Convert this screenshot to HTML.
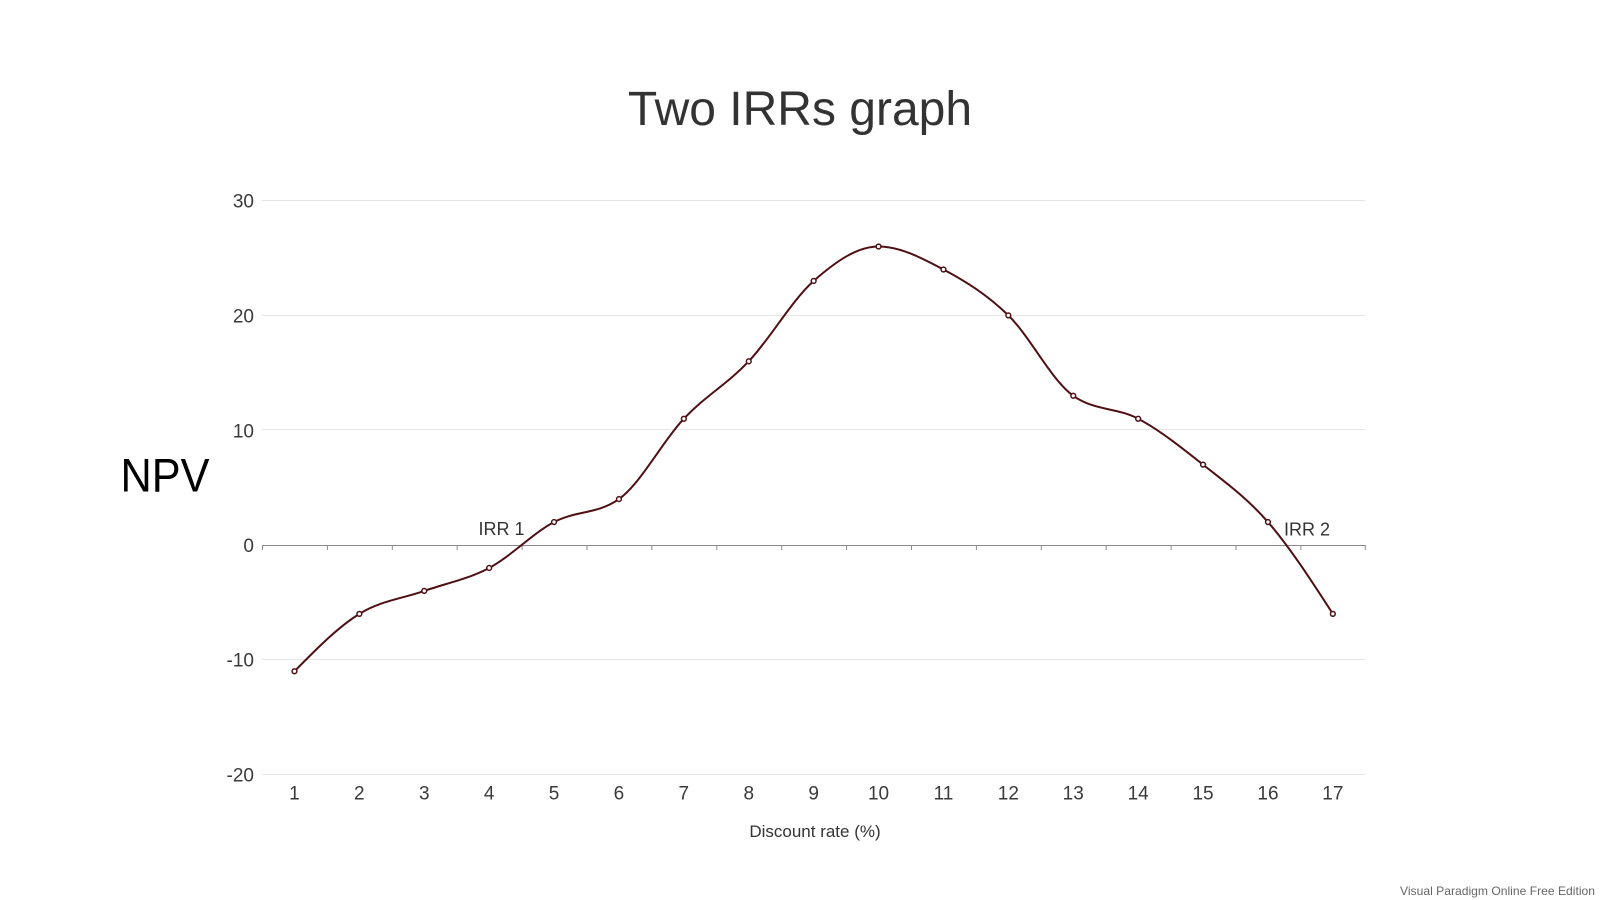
<!DOCTYPE html>
<html>
<head>
<meta charset="utf-8">
<style>
  html, body { margin:0; padding:0; background:#ffffff; }
  body { width:1600px; height:900px; overflow:hidden; }
  svg { display:block; }
  text { font-family: "Liberation Sans", "DejaVu Sans", sans-serif; }
</style>
</head>
<body>
<svg width="1600" height="900" viewBox="0 0 1600 900" xmlns="http://www.w3.org/2000/svg">
  <rect x="0" y="0" width="1600" height="900" fill="#ffffff"/>

  <!-- Title -->
  <text x="800" y="125" font-size="48" fill="#333333" text-anchor="middle">Two IRRs graph</text>

  <!-- Gridlines -->
  <g stroke="#e6e6e6" stroke-width="1">
    <line x1="262" y1="200.5" x2="1365" y2="200.5"/>
    <line x1="262" y1="315.5" x2="1365" y2="315.5"/>
    <line x1="262" y1="429.5" x2="1365" y2="429.5"/>
    <line x1="262" y1="659.5" x2="1365" y2="659.5"/>
    <line x1="262" y1="774.5" x2="1365" y2="774.5"/>
  </g>

  <!-- Zero axis line with ticks -->
  <g stroke="#8a8a8a" stroke-width="1">
    <line x1="262" y1="545.5" x2="1365.5" y2="545.5"/>
    <line x1="262.5" y1="545" x2="262.5" y2="550"/>
    <line x1="327.4" y1="545" x2="327.4" y2="550"/>
    <line x1="392.3" y1="545" x2="392.3" y2="550"/>
    <line x1="457.2" y1="545" x2="457.2" y2="550"/>
    <line x1="522.1" y1="545" x2="522.1" y2="550"/>
    <line x1="587.0" y1="545" x2="587.0" y2="550"/>
    <line x1="651.9" y1="545" x2="651.9" y2="550"/>
    <line x1="716.8" y1="545" x2="716.8" y2="550"/>
    <line x1="781.7" y1="545" x2="781.7" y2="550"/>
    <line x1="846.6" y1="545" x2="846.6" y2="550"/>
    <line x1="911.5" y1="545" x2="911.5" y2="550"/>
    <line x1="976.4" y1="545" x2="976.4" y2="550"/>
    <line x1="1041.3" y1="545" x2="1041.3" y2="550"/>
    <line x1="1106.2" y1="545" x2="1106.2" y2="550"/>
    <line x1="1171.1" y1="545" x2="1171.1" y2="550"/>
    <line x1="1236.0" y1="545" x2="1236.0" y2="550"/>
    <line x1="1300.9" y1="545" x2="1300.9" y2="550"/>
    <line x1="1365.3" y1="545" x2="1365.3" y2="550"/>
  </g>

  <!-- Y tick labels -->
  <g font-size="19" fill="#3a3a3a" text-anchor="end">
    <text x="254" y="207.5">30</text>
    <text x="254" y="322.5">20</text>
    <text x="254" y="437.5">10</text>
    <text x="254" y="552">0</text>
    <text x="254" y="666.5">-10</text>
    <text x="254" y="781.5">-20</text>
  </g>

  <!-- X tick labels -->
  <g font-size="19" fill="#3a3a3a" text-anchor="middle">
    <text x="294.45" y="799.5">1</text>
    <text x="359.35" y="799.5">2</text>
    <text x="424.25" y="799.5">3</text>
    <text x="489.15" y="799.5">4</text>
    <text x="554.05" y="799.5">5</text>
    <text x="618.95" y="799.5">6</text>
    <text x="683.85" y="799.5">7</text>
    <text x="748.75" y="799.5">8</text>
    <text x="813.65" y="799.5">9</text>
    <text x="878.55" y="799.5">10</text>
    <text x="943.45" y="799.5">11</text>
    <text x="1008.35" y="799.5">12</text>
    <text x="1073.25" y="799.5">13</text>
    <text x="1138.15" y="799.5">14</text>
    <text x="1203.05" y="799.5">15</text>
    <text x="1267.95" y="799.5">16</text>
    <text x="1332.85" y="799.5">17</text>
  </g>

  <!-- Axis titles -->
  <text x="815" y="837" font-size="17" fill="#333333" text-anchor="middle">Discount rate (%)</text>
  <text x="120.5" y="491.5" font-size="47" fill="#000000" textLength="89" lengthAdjust="spacingAndGlyphs">NPV</text>

  <!-- Curve (data coordinates) -->
  <g transform="matrix(64.9 0 0 -11.48 229.55 545)">
    <path fill="none" stroke="#4e1013" stroke-width="2" vector-effect="non-scaling-stroke" stroke-linejoin="round"
      d="M1,-11
         C1.3333,-9.0833 1.6667,-7.1667 2,-6
         C2.3333,-4.8333 2.6667,-4.6667 3,-4
         C3.3333,-3.3333 3.6667,-3 4,-2
         C4.3333,-1 4.6667,1 5,2
         C5.3333,3 5.6667,2.6667 6,4
         C6.3333,5.3333 6.6667,9 7,11
         C7.3333,13 7.6667,14 8,16
         C8.3333,18 8.6667,21.3333 9,23
         C9.3333,24.6667 9.6667,26 10,26
         C10.3333,26 10.6667,25 11,24
         C11.3333,23 11.6667,21.8333 12,20
         C12.3333,18.1667 12.6667,14.3333 13,13
         C13.3333,11.6667 13.6667,12 14,11
         C14.3333,10 14.6667,8.5 15,7
         C15.3333,5.5 15.6667,4.1667 16,2
         C16.3333,-0.1667 16.6667,-3.0833 17,-6"/>
  </g>

  <!-- Markers -->
  <g fill="#ffffff" stroke="#4e1013" stroke-width="1.5">
    <circle cx="294.45" cy="671.28" r="2.4"/>
    <circle cx="359.35" cy="613.88" r="2.4"/>
    <circle cx="424.25" cy="590.92" r="2.4"/>
    <circle cx="489.15" cy="567.96" r="2.4"/>
    <circle cx="554.05" cy="522.04" r="2.4"/>
    <circle cx="618.95" cy="499.08" r="2.4"/>
    <circle cx="683.85" cy="418.72" r="2.4"/>
    <circle cx="748.75" cy="361.32" r="2.4"/>
    <circle cx="813.65" cy="280.96" r="2.4"/>
    <circle cx="878.55" cy="246.52" r="2.4"/>
    <circle cx="943.45" cy="269.48" r="2.4"/>
    <circle cx="1008.35" cy="315.40" r="2.4"/>
    <circle cx="1073.25" cy="395.76" r="2.4"/>
    <circle cx="1138.15" cy="418.72" r="2.4"/>
    <circle cx="1203.05" cy="464.64" r="2.4"/>
    <circle cx="1267.95" cy="522.04" r="2.4"/>
    <circle cx="1332.85" cy="613.88" r="2.4"/>
  </g>

  <!-- IRR labels -->
  <text x="478.5" y="535" font-size="18" fill="#333333">IRR 1</text>
  <text x="1284" y="535.5" font-size="18" fill="#333333">IRR 2</text>

  <!-- Watermark -->
  <text x="1595" y="895" font-size="12" fill="#666666" text-anchor="end" textLength="195" lengthAdjust="spacingAndGlyphs">Visual Paradigm Online Free Edition</text>
</svg>
</body>
</html>
